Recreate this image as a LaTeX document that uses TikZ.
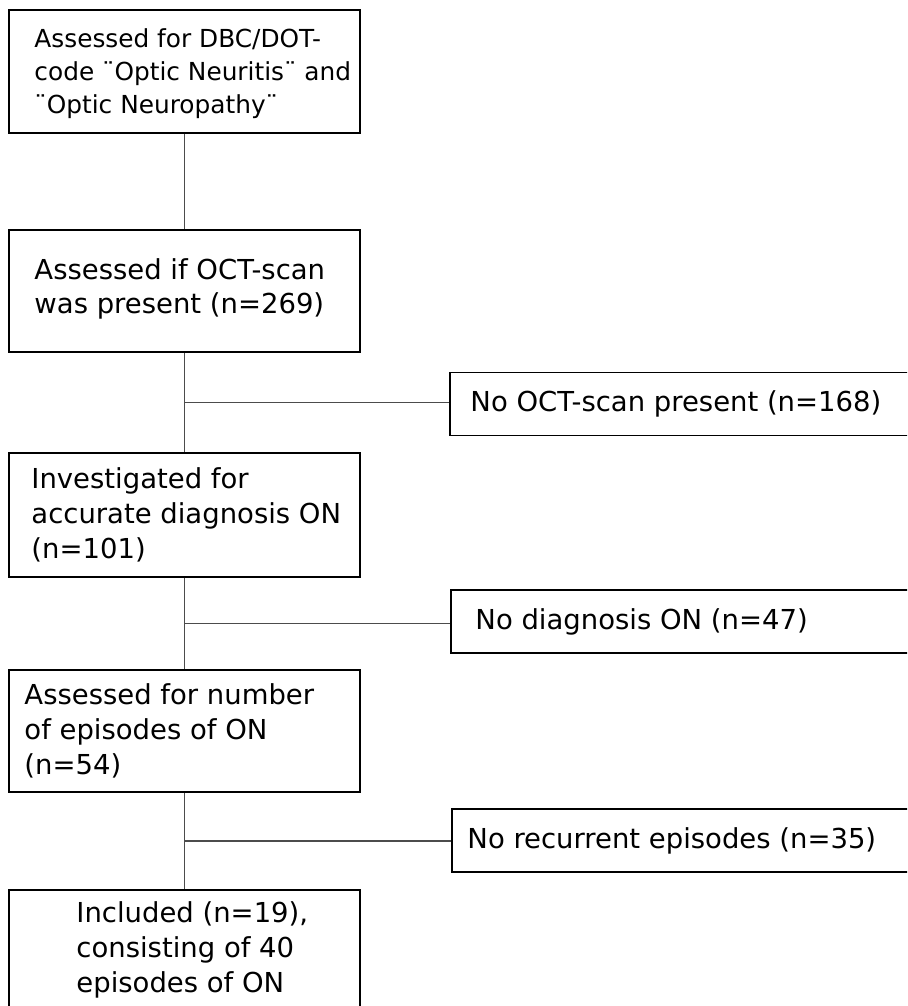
\documentclass[tikz,border=0pt]{standalone}
\usepackage{fontspec}
\setmainfont{DejaVu Sans}
\usetikzlibrary{calc}

\begin{document}
\begin{tikzpicture}[x=0.75pt,y=-0.75pt,
		flowbox/.style={draw=black,line width=1.2pt,minimum width=263.25pt,inner sep=0pt},
		sidebox/.style={draw=black,line width=1.2pt,minimum width=345pt,minimum height=47.5pt,inner sep=0pt},
		boxtext/.style={anchor=west,align=left,inner sep=0pt,font=\fontsize{20.6}{26}\selectfont},
		link/.style={draw=black!70,line width=1.2pt}]
			\useasboundingbox (0,0) rectangle (907,1006);
			\clip (0,0) rectangle (907,1006);
			% main column
			\node[flowbox,minimum height=92.25pt] (b1) at (184.5,71.5) {};
			\node[flowbox,minimum height=91.5pt] (b2) at (184.5,291) {};
			\node[flowbox,minimum height=93pt] (b3) at (184.5,515) {};
			\node[flowbox,minimum height=91.5pt] (b4) at (184.5,731) {};
			\node[flowbox,minimum height=88.5pt] (b5) at (184.5,949) {};
			\node[boxtext,font=\fontsize{18.6}{24.75}\selectfont] (t1) at ($(b1.west)+(26,2)$) {Assessed for DBC/DOT-\\code ¨Optic Neuritis¨ and\\¨Optic Neuropathy¨};
			\node[boxtext] (t2) at ($(b2.west)+(26,-2)$) {Assessed if OCT-scan\\was present (n=269)};
			\node[boxtext] (t3) at ($(b3.west)+(23,0)$) {Investigated for\\accurate diagnosis ON\\(n=101)};
			\node[boxtext] (t4) at ($(b4.west)+(16,0)$) {Assessed for number\\of episodes of ON\\(n=54)};
			\node[boxtext] (t5) at ($(b5.west)+(68,1)$) {Included (n=19),\\consisting of 40\\episodes of ON};
			% excluded
			\node[sidebox] (s1) at (680,404) {};
			\node[sidebox] (s2) at (681,621.5) {};
			\node[sidebox] (s3) at (682,840.5) {};
			\node[boxtext] (u1) at ($(s1.west)+(21,0)$) {No OCT-scan present (n=168)};
			\node[boxtext] (u2) at ($(s2.west)+(25,0)$) {No diagnosis ON (n=47)};
			\node[boxtext] (u3) at ($(s3.west)+(16,0)$) {No recurrent episodes (n=35)};
			% connectors
			\draw[link] (b1.south) -- (b2.north);
			\draw[link] (b2.south) -- (b3.north);
			\draw[link] (b3.south) -- (b4.north);
			\draw[link] (b4.south) -- (b5.north);
			\coordinate (j1) at ($(b2.south)!0.5!(b3.north)$);
			\coordinate (j2) at ($(b3.south)!0.5!(b4.north)$);
			\coordinate (j3) at ($(b4.south)!0.5!(b5.north)$);
			\draw[link] (j1) -- (j1 -| s1.west);
			\draw[link] (j2) -- (j2 -| s2.west);
			\draw[link] (j3) -- (j3 -| s3.west);
		\end{tikzpicture}
\end{document}
